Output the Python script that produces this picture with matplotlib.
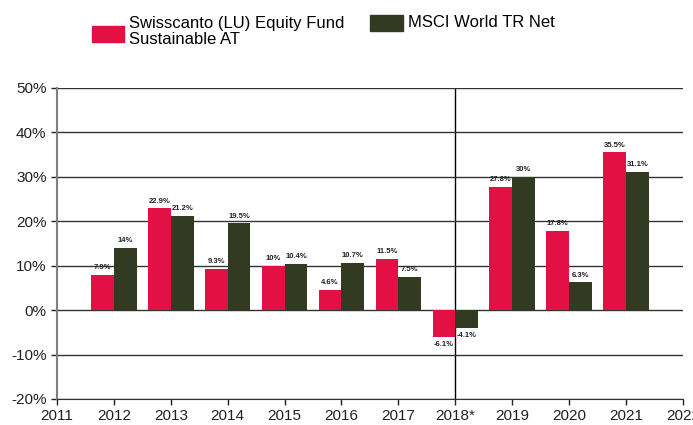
import matplotlib.pyplot as plt
from matplotlib.patches import Rectangle

plt.rcParams["font.family"] = ["Liberation Sans", "DejaVu Sans"]

years = [2012, 2013, 2014, 2015, 2016, 2017, 2018, 2019, 2020, 2021]
fund = [7.9, 22.9, 9.3, 10, 4.6, 11.5, -6.1, 27.8, 17.8, 35.5]
msci = [14, 21.2, 19.5, 10.4, 10.7, 7.5, -4.1, 30, 6.3, 31.1]
xtick_labels = ["2011", "2012", "2013", "2014", "2015", "2016", "2017",
                "2018*", "2019", "2020", "2021", "2022"]

pink = "#E31045"
olive = "#333A22"

fig = plt.figure(figsize=(6.93, 4.25), dpi=100)
ax = fig.add_axes([0.0823, 0.0612, 0.903, 0.732])

w = 0.4
ax.bar([y - w / 2 for y in years], fund, width=w, color=pink, zorder=3)
ax.bar([y + w / 2 for y in years], msci, width=w, color=olive, zorder=3)

def lbl(v):
    return f"{v:g}%"

for y, a, b in zip(years, fund, msci):
    for x, v in ((y - w / 2, a), (y + w / 2, b)):
        if v >= 0:
            ax.text(x, v + 0.8, lbl(v), ha="center", va="bottom",
                    fontsize=5.5, fontweight="bold", color="#222222")
        else:
            ax.text(x, v - 0.8, lbl(v), ha="center", va="top",
                    fontsize=5.5, fontweight="bold", color="#222222")

ax.set_xlim(2011, 2022)
ax.set_ylim(-20, 50)
ax.set_xticks(range(2011, 2023))
ax.set_xticklabels(xtick_labels)
ax.set_yticks(range(-20, 51, 10))
ax.set_yticklabels([f"{t}%" for t in range(-20, 51, 10)])
ax.tick_params(labelsize=11, length=4, width=1, colors="#222222")

ax.grid(axis="y", color="#333333", linewidth=1, zorder=0)
ax.axvline(2018, color="black", linewidth=1, zorder=1)

for s in ("top", "right"):
    ax.spines[s].set_visible(False)
ax.spines["left"].set_color("#808080")
ax.spines["left"].set_linewidth(1.5)
ax.spines["bottom"].set_color("#333333")

# legend
fig.patches.append(Rectangle((92 / 693, 1 - 42 / 425), 32 / 693, 16 / 425,
                             transform=fig.transFigure, color=pink))
fig.text(129 / 693, 1 - 16 / 425, "Swisscanto (LU) Equity Fund\nSustainable AT",
         fontsize=12, va="top", ha="left", linespacing=1.1)
fig.patches.append(Rectangle((370 / 693, 1 - 31 / 425), 33 / 693, 16 / 425,
                             transform=fig.transFigure, color=olive))
fig.text(408 / 693, 1 - 15 / 425, "MSCI World TR Net",
         fontsize=12, va="top", ha="left")

fig.savefig("out.png", dpi=100)
